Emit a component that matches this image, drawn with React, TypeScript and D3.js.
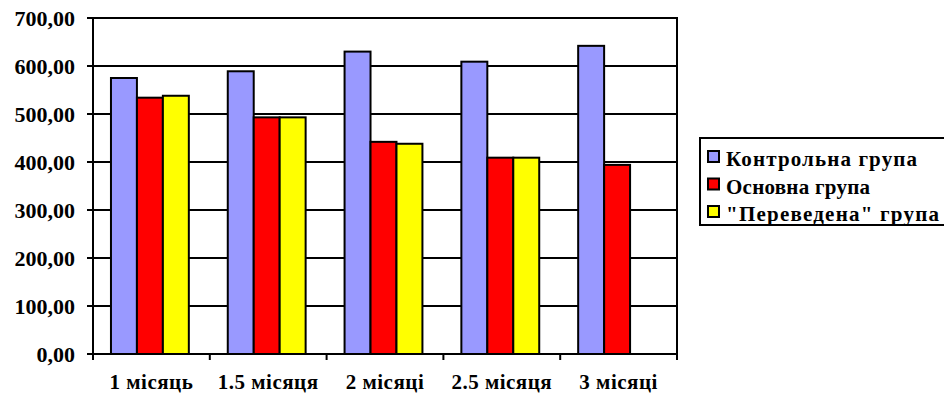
import React from "react";
import * as d3 from "d3";

const categories = ["1 місяць", "1.5 місяця", "2 місяці", "2.5 місяця", "3 місяці"];
const seriesNames = ["Контрольна група", "Основна група", "\"Переведена\" група"];
const controlGroup = [575, 589, 630, 609, 642];
const mainGroup = [534, 493, 442, 409, 394];
const transferredGroup = [538, 493, 438, 409, 0];
const yTicks = [0, 100, 200, 300, 400, 500, 600, 700];

const seriesValues = [controlGroup, mainGroup, transferredGroup];
const colors = ["#9999FF", "#FF0000", "#FFFF00"];
const legendWidths = [191, 144, 213];

const W = 944;
const H = 396;
const plot = { left: 93, right: 677, top: 18, bottom: 354 };
const FONT = "Liberation Serif";

export default function App() {
  const x = d3
    .scaleBand<string>()
    .domain(categories)
    .range([plot.left, plot.right])
    .paddingInner(0)
    .paddingOuter(0);
  const bw = x.bandwidth();
  const groupW = bw / 1.5;
  const inner = d3
    .scaleBand<number>()
    .domain(d3.range(seriesNames.length))
    .range([(bw - groupW) / 2 - 1.5, (bw + groupW) / 2 - 1.5]);
  const y = d3.scaleLinear().domain([0, 700]).range([plot.bottom, plot.top]);
  const fmt = (v: number) => d3.format(".2f")(v).replace(".", ",");

  const boundaries = categories.map((c) => x(c) as number).concat([plot.right]);

  return (
    <svg width={W} height={H} style={{ position: "absolute", left: 0, top: 0, background: "#fff" }}>
      {/* horizontal gridlines */}
      {yTicks
        .filter((t) => t > 0 && t < 700)
        .map((t) => (
          <line key={"g" + t} x1={plot.left} x2={plot.right} y1={y(t)} y2={y(t)} stroke="#000" strokeWidth={2} />
        ))}
      {/* plot frame: top and right */}
      <line x1={plot.left} x2={plot.right + 1} y1={plot.top} y2={plot.top} stroke="#000" strokeWidth={2} />
      <line x1={plot.right} x2={plot.right} y1={plot.top} y2={plot.bottom} stroke="#000" strokeWidth={2} />

      {/* bars */}
      {categories.map((c, ci) =>
        seriesValues.map((vals, si) => {
          const v = vals[ci];
          if (!v) return null;
          const bx = (x(c) as number) + (inner(si) as number);
          return (
            <rect
              key={c + si}
              x={bx}
              y={y(v)}
              width={inner.bandwidth()}
              height={y(0) - y(v)}
              fill={colors[si]}
              stroke="#000"
              strokeWidth={2}
            />
          );
        })
      )}

      {/* y axis */}
      <line x1={plot.left} x2={plot.left} y1={plot.top - 1} y2={plot.bottom + 1} stroke="#000" strokeWidth={2} />
      {yTicks.map((t) => (
        <g key={"y" + t}>
          <line x1={plot.left - 6} x2={plot.left} y1={y(t)} y2={y(t)} stroke="#000" strokeWidth={2} />
          <text
            x={75}
            y={y(t)}
            dy="0.35em"
            textAnchor="end"
            fontSize={22}
            fontFamily={FONT}
            fontWeight="bold"
          >
            {fmt(t)}
          </text>
        </g>
      ))}

      {/* x axis */}
      <line x1={plot.left - 6} x2={plot.right + 1} y1={plot.bottom} y2={plot.bottom} stroke="#000" strokeWidth={2} />
      {boundaries.map((bx, i) => (
        <line key={"xt" + i} x1={bx} x2={bx} y1={plot.bottom} y2={plot.bottom + 6} stroke="#000" strokeWidth={2} />
      ))}
      {categories.map((c) => (
        <text
          key={"xl" + c}
          x={(x(c) as number) + bw / 2}
          y={389}
          textAnchor="middle"
          fontSize={21}
          fontFamily={FONT}
          fontWeight="bold"
          letterSpacing={0.5}
        >
          {c}
        </text>
      ))}

      {/* legend */}
      <rect x={700} y={138} width={260} height={87} fill="#fff" stroke="#000" strokeWidth={2} />
      {seriesNames.map((s, i) => {
        const base = 166 + i * 27.5;
        return (
          <g key={"lg" + i}>
            <rect x={708} y={base - 15} width={11} height={11} fill={colors[i]} stroke="#000" strokeWidth={2} />
            <text
              x={726}
              y={base}
              fontSize={21}
              fontFamily={FONT}
              fontWeight="bold"
              textLength={legendWidths[i]}
              lengthAdjust="spacing"
            >
              {s}
            </text>
          </g>
        );
      })}
    </svg>
  );
}
